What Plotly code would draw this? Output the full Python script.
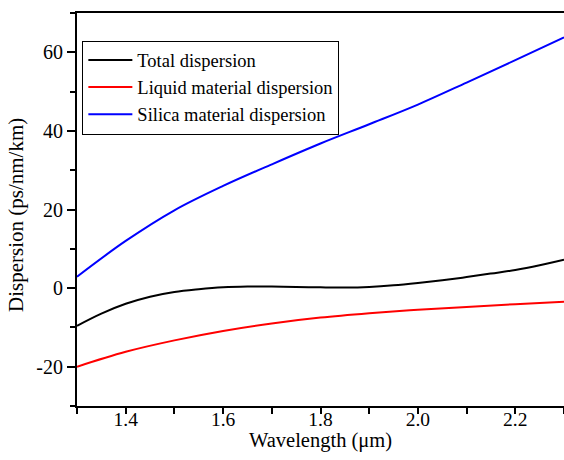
import plotly.graph_objects as go

wl_total = [1.30, 1.35, 1.40, 1.45, 1.50, 1.55, 1.60, 1.65, 1.70, 1.75, 1.80,
            1.85, 1.90, 1.95, 2.00, 2.05, 2.10, 2.15, 2.20, 2.25, 2.30]
total = [-9.6, -6.5, -4.0, -2.2, -1.0, -0.3, 0.2, 0.4, 0.4, 0.3, 0.2,
         0.15, 0.3, 0.7, 1.3, 2.0, 2.8, 3.7, 4.6, 5.8, 7.2]

wl = [1.3, 1.4, 1.5, 1.6, 1.7, 1.8, 1.9, 2.0, 2.1, 2.2, 2.3]
liquid = [-20.0, -16.2, -13.3, -10.9, -9.0, -7.5, -6.4, -5.5, -4.8, -4.1, -3.5]
silica = [2.9, 12.0, 19.8, 26.0, 31.5, 36.8, 41.7, 46.7, 52.3, 58.0, 63.8]

names = ["Total dispersion", "Liquid material dispersion", "Silica material dispersion"]
colors = ["#000000", "#ff0000", "#0000ff"]

x_tickvals = [1.4, 1.6, 1.8, 2.0, 2.2]
x_ticktext = ["1.4", "1.6", "1.8", "2.0", "2.2"]
y_tickvals = [-20, 0, 20, 40, 60]
y_ticktext = ["-20", "0", "20", "40", "60"]
x_title = "Wavelength (μm)"
y_title = "Dispersion (ps/nm/km)"

FONT = "Liberation Serif"

fig = go.Figure()
fig.add_trace(go.Scatter(x=wl_total, y=total, mode="lines", name=names[0],
                         line=dict(color=colors[0], width=2, shape="spline")))
fig.add_trace(go.Scatter(x=wl, y=liquid, mode="lines", name=names[1],
                         line=dict(color=colors[1], width=2, shape="spline")))
fig.add_trace(go.Scatter(x=wl, y=silica, mode="lines", name=names[2],
                         line=dict(color=colors[2], width=2, shape="spline")))

# axis titles as annotations for precise placement
fig.add_annotation(x=0.5, y=-0.089, xref="paper", yref="paper", text=x_title,
                   showarrow=False, xanchor="center", yanchor="middle",
                   font=dict(family=FONT, size=20.5))
fig.add_annotation(x=-0.124, y=0.485, xref="paper", yref="paper", text=y_title,
                   showarrow=False, xanchor="center", yanchor="middle", textangle=-90,
                   font=dict(family=FONT, size=21))

fig.update_layout(
    width=564, height=460,
    margin=dict(l=77, r=0, t=13, b=54),
    plot_bgcolor="white", paper_bgcolor="white",
    font=dict(family=FONT, size=20, color="black"),
    showlegend=True,
    legend=dict(x=0.011, y=0.93, xanchor="left", yanchor="top",
                bordercolor="black", borderwidth=1, bgcolor="white",
                itemwidth=44,
                font=dict(family=FONT, size=18.5), tracegroupgap=0),
    xaxis=dict(range=[1.3, 2.3], tickvals=x_tickvals, ticktext=x_ticktext,
               ticks="", ticklabelstandoff=-5,
               minor=dict(dtick=0.1, tick0=1.3, ticks="outside", ticklen=6,
                          tickwidth=1.5, tickcolor="black"),
               showline=True, linecolor="black", linewidth=2, mirror=True,
               showgrid=False, zeroline=False,
               tickfont=dict(family=FONT, size=19.5)),
    yaxis=dict(range=[-30, 70], tickvals=y_tickvals, ticktext=y_ticktext,
               ticks="outside", ticklen=8, tickwidth=1.5, tickcolor="black",
               minor=dict(dtick=10, tick0=-30, ticks="outside", ticklen=5, tickcolor="black"),
               showline=True, linecolor="black", linewidth=2,
               showgrid=False, zeroline=False,
               tickfont=dict(family=FONT, size=20)),
)

fig.write_html("out.html")
